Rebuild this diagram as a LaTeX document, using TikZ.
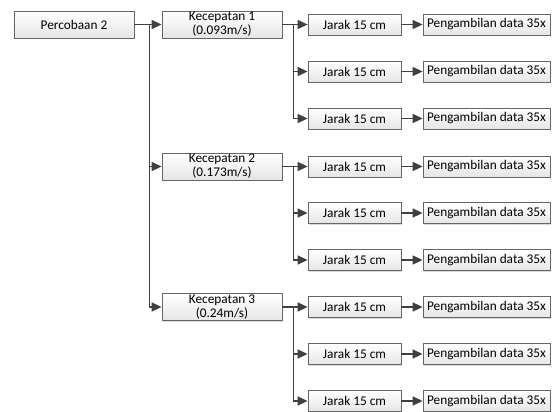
\documentclass[tikz,border=0pt]{standalone}
\usepackage{fontspec}
\setmainfont{Carlito}
\usetikzlibrary{arrows.meta,shadows}
\definecolor{linec}{HTML}{404040}
\definecolor{boxb}{HTML}{666666}
\begin{document}
\begin{tikzpicture}[x=1bp,y=-1bp,
  box/.style={draw=boxb, line width=0.8bp, top color=white, bottom color=black!10,
    inner sep=0pt, align=center, font=\fontsize{13.3bp}{14bp}\selectfont,
    drop shadow={shadow xshift=1.2bp, shadow yshift=-1.2bp, fill=black!25, opacity=0.6}},
  bigbox/.style={box, minimum width=120bp, minimum height=27bp},
  jbox/.style={box, minimum width=93bp, minimum height=21bp},
  pbox/.style={box, minimum width=127bp, minimum height=21bp},
  conn/.style={draw=linec, line width=1.6bp},
  arr/.style={conn, -{Triangle[length=10bp,width=9bp]}}]
\useasboundingbox (0,0) rectangle (553,411);
\fill[white] (0,0) rectangle (553,411);

\node[bigbox] (P) at (74,24.5) {Percobaan 2};
\node[bigbox] (K1) at (222,24.5) {Kecepatan 1\\(0.093m/s)};
\node[bigbox] (K2) at (222,166.5) {Kecepatan 2\\(0.173m/s)};
\node[bigbox] (K3) at (222,307) {Kecepatan 3\\(0.24m/s)};

\foreach \g/\ya/\yb/\yc in {1/24.5/71.5/118.5, 2/166.5/213/260, 3/307/354/401}{
  \node[jbox] (J\g a) at (354.5,\ya) {Jarak 15 cm};
  \node[jbox] (J\g b) at (354.5,\yb) {Jarak 15 cm};
  \node[jbox] (J\g c) at (354.5,\yc) {Jarak 15 cm};
  \node[pbox] (D\g a) at (486.5,\ya) {Pengambilan data 35x};
  \node[pbox] (D\g b) at (486.5,\yb) {Pengambilan data 35x};
  \node[pbox] (D\g c) at (486.5,\yc) {Pengambilan data 35x};
  \draw[arr] (J\g a.east) -- (D\g a.west);
  \draw[arr] (J\g b.east) -- (D\g b.west);
  \draw[arr] (J\g c.east) -- (D\g c.west);
  \draw[arr] (K\g.east) -- (J\g a.west);
  \coordinate (T\g) at ([xshift=11bp]K\g.east);
  \draw[arr] (T\g) |- (J\g b.west);
  \draw[arr] (T\g) |- (J\g c.west);
}

\draw[arr] (P.east) -- (K1.west);
\coordinate (T0) at ([xshift=15bp]P.east);
\draw[arr] (T0) |- (K2.west);
\draw[arr] (T0) |- (K3.west);
\end{tikzpicture}
\end{document}
